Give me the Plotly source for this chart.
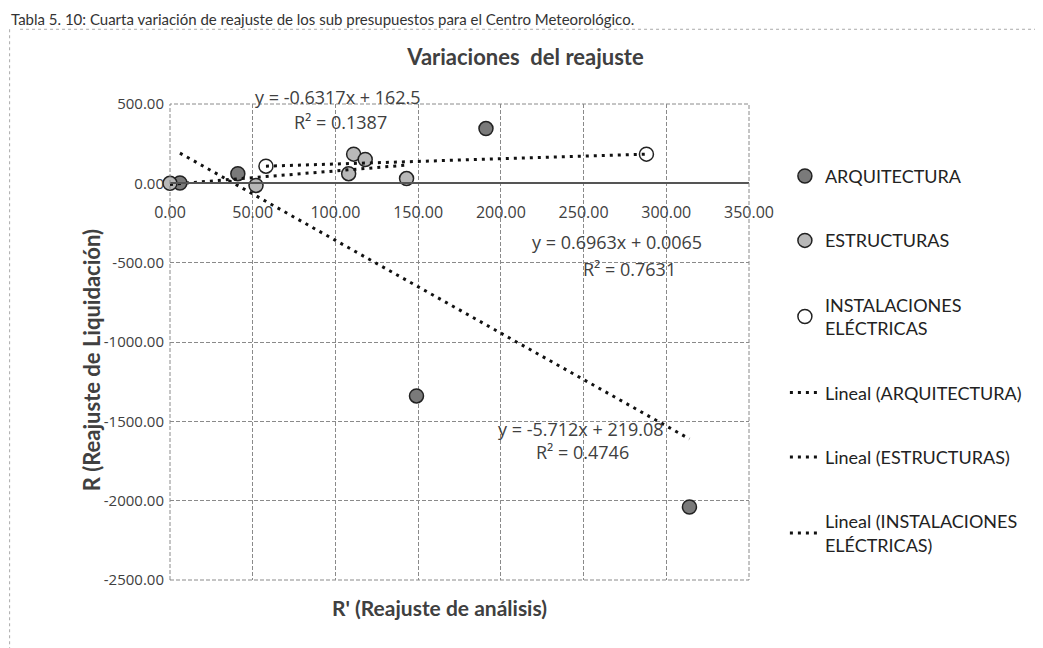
#!/usr/bin/env python3
"""
Variaciones del reajuste - scatter with linear trendlines
"""

import numpy as np
import plotly.graph_objects as go

# Data: R' (analysis) vs R (liquidation)
arq_x = [6, 41, 149, 191, 314]
arq_y = [2, 61, -1340, 345, -2040]

estr_x = [0, 52, 108, 111, 118, 143]
estr_y = [0, -13, 61, 184, 150, 30]

inst_x = [58, 288]
inst_y = [108, 184]

x_ticks = [0, 50, 100, 150, 200, 250, 300, 350]
y_ticks = [500, 0, -500, -1000, -1500, -2000, -2500]

# Trendline labels as printed on the chart
eq_labels = [
    ('y = -0.6317x + 162.5', 'R² = 0.1387'),
    ('y = 0.6963x + 0.0065', 'R² = 0.7631'),
    ('y = -5.712x + 219.08', 'R² = 0.4746'),
]

TEXT = '#404040'
FONT = 'Lato'


def trend(xs, ys):
    """Least squares line over the range of the series"""
    b, a = np.polyfit(xs, ys, 1)
    xx = np.array([min(xs), max(xs)], dtype=float)
    return xx, a + b * xx


def create_chart():
    fig = go.Figure()

    series = [
        ('ARQUITECTURA', arq_x, arq_y, '#7a7a7a'),
        ('ESTRUCTURAS', estr_x, estr_y, '#b8b8b8'),
        ('INSTALACIONES<br>ELÉCTRICAS', inst_x, inst_y, '#ffffff'),
    ]

    for i, (name, xs, ys, fill) in enumerate(series):
        fig.add_trace(go.Scatter(
            x=xs, y=ys, mode='markers', name=name,
            legendgroup=f'g{i}',
            marker=dict(size=14, color=fill, line=dict(color='#222222', width=1.5)),
            cliponaxis=False,
        ))

    for i, (name, xs, ys, fill) in enumerate(series):
        tx, ty = trend(xs, ys)
        fig.add_trace(go.Scatter(
            x=tx, y=ty, mode='lines', name=f'Lineal ({name})',
            legendgroup=f'l{i}',
            line=dict(color='#111111', width=3, dash='3px,5px'),
        ))

    # equation labels (paper coords of the plot area)
    eq_pos = [((0.290, 1.015), (0.295, 0.962)),
              ((0.772, 0.710), (0.794, 0.653)),
              ((0.710, 0.317), (0.712, 0.269))]
    for (eq, r2), ((ex, ey), (rx, ry)) in zip(eq_labels, eq_pos):
        for txt, ax_, ay_ in ((eq, ex, ey), (r2, rx, ry)):
            fig.add_annotation(x=ax_, y=ay_, xref='paper', yref='paper', text=txt,
                               showarrow=False, xanchor='center', yanchor='middle',
                               font=dict(family='Open Sans', size=18, color=TEXT))

    # caption at the top of the scan
    fig.add_annotation(
        x=-0.278, y=1.179, xref='paper', yref='paper', xanchor='left', yanchor='middle',
        text='Tabla 5. 10: Cuarta variación de reajuste de los sub presupuestos para el Centro Meteorológico.',
        showarrow=False, font=dict(family=FONT, size=15, color='#333333'))

    # axis titles
    fig.add_annotation(x=0.466, y=-0.057, xref='paper', yref='paper',
                       text="<b>R' (Reajuste de análisis)</b>", showarrow=False,
                       xanchor='center', yanchor='middle',
                       font=dict(family=FONT, size=21, color=TEXT))
    fig.add_annotation(x=-0.136, y=0.462, xref='paper', yref='paper', textangle=-90,
                       text='<b>R (Reajuste de Liquidación)</b>', showarrow=False,
                       xanchor='center', yanchor='middle',
                       font=dict(family=FONT, size=22, color=TEXT))

    # plot frame and scan border
    fig.add_shape(type='rect', xref='x domain', yref='y domain', x0=0, x1=1, y0=0, y1=1,
                  line=dict(color='#8a8a8a', width=1, dash='4px,2px'))
    fig.add_shape(type='line', xref='paper', yref='paper', x0=-0.259, x1=1.51, y0=1.157, y1=1.157,
                  line=dict(color='#aaaaaa', width=1, dash='3px,3px'))
    fig.add_shape(type='line', xref='paper', yref='paper', x0=-0.277, x1=-0.277, y0=1.157, y1=-0.2,
                  line=dict(color='#aaaaaa', width=1, dash='3px,3px'))

    fig.update_layout(
        title=dict(text='<b>Variaciones  del reajuste</b>', x=0.5, xanchor='center',
                   y=0.923, yanchor='middle',
                   font=dict(family=FONT, size=22, color=TEXT)),
        xaxis=dict(
            range=[0, 350],
            tickvals=x_ticks, ticktext=[f'{v:.2f}' for v in x_ticks],
            tickfont=dict(family='Open Sans', size=16, color=TEXT),
            anchor='free', position=2500 / 3000,
            showline=True, linecolor='#555555', linewidth=1.5,
            showgrid=True, gridcolor='#8a8a8a', gridwidth=1, griddash='4px,2px',
            zeroline=False, ticks='', ticklabelstandoff=15,
        ),
        yaxis=dict(
            range=[-2500, 500],
            tickvals=y_ticks, ticktext=[f'{v:.2f}' for v in y_ticks],
            tickfont=dict(family='Open Sans', size=15, color=TEXT),
            showgrid=True, gridcolor='#8a8a8a', gridwidth=1, griddash='4px,2px',
            zeroline=False, showline=False, ticks='', ticklabelstandoff=5,
        ),
        showlegend=True,
        legend=dict(
            x=1.062, xanchor='left', y=0.887, yanchor='top',
            font=dict(family=FONT, size=18, color='#222222'),
            tracegroupgap=38, bgcolor='rgba(0,0,0,0)',
        ),
        plot_bgcolor='white',
        paper_bgcolor='white',
        margin=dict(l=162, r=294, t=96, b=68),
        width=1035,
        height=640,
    )

    fig.write_html('out.html')


if __name__ == "__main__":
    create_chart()
